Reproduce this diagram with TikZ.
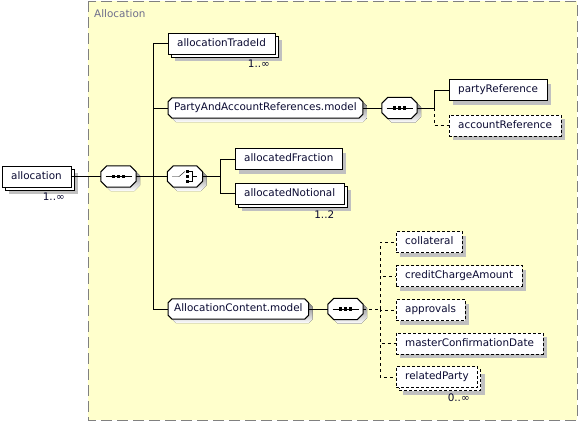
\documentclass[tikz,border=0pt]{standalone}
\usepackage{fontspec}
\setmainfont{DejaVu Sans}
\usetikzlibrary{shadows, positioning}

\definecolor{grpfill}{RGB}{255,255,204}
\definecolor{grpline}{RGB}{128,128,128}
\definecolor{grptext}{RGB}{110,110,140}
\definecolor{txt}{RGB}{10,10,50}
\definecolor{shade}{RGB}{192,192,192}

\pgfdeclarelayer{back}
\pgfdeclarelayer{background}
\pgfsetlayers{back,background,main}

\tikzset{
  lbl/.style={text=txt, font=\fontsize{10.4}{12}\selectfont},
  elem/.style={lbl, draw, fill=white, anchor=west, inner xsep=9pt, inner ysep=0pt,
    text height=8pt, text depth=2.5pt, minimum height=21pt,
    drop shadow={shadow xshift=4pt, shadow yshift=-4pt, fill=shade, opacity=1}},
  optelem/.style={elem, dash pattern=on 3pt off 2pt},
  manyelem/.style={lbl, draw, fill=white, anchor=west, inner xsep=9pt, inner ysep=0pt,
    text height=8pt, text depth=2.5pt, minimum height=21pt,
    drop shadow={shadow xshift=7pt, shadow yshift=-7pt, fill=shade, opacity=1},
    copy shadow={shadow xshift=3pt, shadow yshift=-3pt}},
  optmany/.style={manyelem, dash pattern=on 3pt off 2pt},
  modelgrp/.style={lbl, anchor=west, inner xsep=6pt, inner ysep=0pt,
    text height=8pt, text depth=2.5pt, minimum height=20pt},
  compositor/.style={inner sep=0pt, minimum width=35pt, minimum height=21pt},
  mult/.style={lbl, inner sep=0pt, anchor=north east},
  optline/.style={dash pattern=on 3pt off 3pt}
}

% octagon round a node
\newcommand{\octpath}[2]{%
  ([xshift=#2]#1.north west) -- ([xshift=-#2]#1.north east)
  -- ([yshift=-#2]#1.north east) -- ([yshift=#2]#1.south east)
  -- ([xshift=-#2]#1.south east) -- ([xshift=#2]#1.south west)
  -- ([yshift=#2]#1.south west) -- ([yshift=-#2]#1.north west) -- cycle}
\newcommand{\octframe}[2]{%
  \begin{pgfonlayer}{background}
    \fill[shade, transform canvas={xshift=4pt, yshift=-4pt}] \octpath{#1}{#2};
    \draw[black, line width=1pt, fill=white] \octpath{#1}{#2};
  \end{pgfonlayer}
}

% sequence symbol inside a compositor
\newcommand{\seqsymbol}[1]{%
  \draw ([xshift=-13pt]#1.center) -- ([xshift=13pt]#1.center);
  \foreach \d in {-5,0,5}
    \fill ([xshift=\d pt]#1.center) +(-1.6,-1.6) rectangle +(1.6,1.6);
}

\begin{document}
\begin{tikzpicture}[x=1pt, y=-1pt, line width=1pt]
\useasboundingbox (0,0) rectangle (578,421);

% Group
\begin{pgfonlayer}{back}
\draw[grpline, line width=1pt, fill=grpfill, dash pattern=on 11pt off 5pt] (88,1) rectangle (577,420);
\end{pgfonlayer}
\node[anchor=west, text=grptext, font=\fontsize{10.4}{12}\selectfont, inner sep=0pt]
  (grplabel) at (94,14) {Allocation};

% Root element
\node[manyelem] (allocation) at (2,176.5) {allocation};
\node[mult] (multAlloc) at ([xshift=-6pt, yshift=-6pt]allocation.south east) {1..∞};
\node[compositor] (seqMain) at (118.5,176.5) {};
\octframe{seqMain}{6pt}
\seqsymbol{seqMain}
\coordinate (spineMain) at (153,176.5);

% Trade id
\node[manyelem] (tradeId) at (168,43.5) {allocationTradeId};
\node[mult] (multTrade) at ([xshift=-5pt, yshift=-6pt]tradeId.south east) {1..∞};

% Party and account references
\node[modelgrp] (partyModel) at (168,108) {PartyAndAccountReferences.model};
\octframe{partyModel}{4pt}
\node[compositor] (seqParty) at (399.5,108) {};
\octframe{seqParty}{6pt}
\seqsymbol{seqParty}
\coordinate (spineParty) at (434,108);
\node[elem] (partyRef) at (449,90) {partyReference};
\node[optelem] (accountRef) at (449,125.5) {accountReference};

% Choice: fraction or notional
\node[compositor] (choiceAlloc) at (185,176.5) {};
\octframe{choiceAlloc}{6pt}
\begin{scope}[shift={(choiceAlloc.center)}]
  \draw (-13,0) -- (-6,0) -- (0,-5);
  \foreach \d in {-5,0,5}
    \fill (2.5,\d) +(-1.5,-1.5) rectangle +(1.5,1.5);
  \draw (3,-5) -- (7,-5) -- (7,5) -- (3,5);
  \draw (7,0) -- (12,0);
\end{scope}
\coordinate (spineChoice) at (220,176.5);
\node[elem] (fraction) at (235,159) {allocatedFraction};
\node[manyelem] (notional) at (235,193.5) {allocatedNotional};
\node[mult] (multNotional) at ([xshift=-10pt, yshift=-6pt]notional.south east) {1..2};

% Allocation content
\node[modelgrp] (contentModel) at (168,309) {AllocationContent.model};
\octframe{contentModel}{4pt}
\node[compositor] (seqContent) at (345.5,309) {};
\octframe{seqContent}{6pt}
\seqsymbol{seqContent}
\coordinate (spineContent) at (380,309);
\node[optelem] (collateral) at (396,242) {collateral};
\node[optelem] (creditCharge) at (396,276) {creditChargeAmount};
\node[optelem] (approvals) at (396,310) {approvals};
\node[optelem] (masterConf) at (396,343.5) {masterConfirmationDate};
\node[optmany] (relatedParty) at (396,377) {relatedParty};
\node[mult] (multRelated) at ([xshift=-8pt, yshift=-6pt]relatedParty.south east) {0..∞};

% Connectors
\draw (allocation.east) -- (seqMain.west);
\draw (seqMain.east) -- (spineMain);
\foreach \n in {tradeId, partyModel, choiceAlloc, contentModel}
  \draw (spineMain) |- (\n.west);
\draw (partyModel.east) -- (seqParty.west);
\draw (seqParty.east) -- (spineParty);
\draw (spineParty) |- (partyRef.west);
\draw[optline] (spineParty) |- (accountRef.west);
\draw (choiceAlloc.east) -- (spineChoice);
\draw (spineChoice) |- (fraction.west);
\draw (spineChoice) |- (notional.west);
\draw (contentModel.east) -- (seqContent.west);
\draw[optline] (seqContent.east) -- (spineContent);
\foreach \n in {collateral, creditCharge, approvals, masterConf, relatedParty}
  \draw[optline] (spineContent) |- (\n.west);

\end{tikzpicture}
\end{document}
